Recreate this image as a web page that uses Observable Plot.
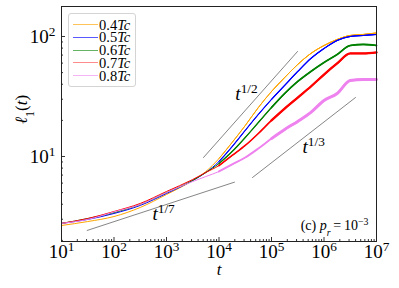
<!DOCTYPE html>
<html><head><meta charset="utf-8">
<script src="https://cdn.jsdelivr.net/npm/d3@7"></script>
<script src="https://cdn.jsdelivr.net/npm/@observablehq/plot@0.6"></script>
<style>
body{margin:0;background:#fff;}
#wrap{position:relative;width:399px;height:288px;}
#legend{position:absolute;left:68px;top:13px;width:68px;height:74px;border:1px solid #d4d4d4;border-radius:3px;background:rgba(255,255,255,0.85);font-family:"Liberation Serif","DejaVu Serif",serif;font-size:14.5px;line-height:12px;box-sizing:border-box;color:#000;}
.row{position:absolute;left:4px;height:12px;display:flex;align-items:center;white-space:nowrap;}
.sw{width:25px;height:0;border-top:1.5px solid;margin-right:1px;}
</style></head>
<body><div id="wrap"></div>
<script>
// ---- data ----
const temps = ["0.4", "0.5", "0.6", "0.7", "0.8"];
const colors = ["#FFA500", "#0000FF", "#008000", "#FF0000", "#EE82EE"];
const legendColors = ["rgba(255,165,0,0.65)", "rgba(0,0,255,0.65)", "rgba(0,128,0,0.6)", "rgba(255,0,0,0.45)", "rgba(238,130,238,0.6)"];
const times = [10, 31.6, 100, 316, 1000, 3160, 5620, 1e4, 1.78e4, 3.16e4, 5.62e4, 1e5, 1.78e5, 3.16e5, 5.62e5, 1e6, 1.78e6, 3.16e6, 5.62e6, 1e7];
const ell04 = [2.66, 2.87, 3.16, 3.76, 4.82, 6.31, 7.50, 9.62, 13.1, 18.1, 25.6, 34.8, 45.5, 58.5, 72.2, 84.1, 94.4, 102, 104, 107];
const ell05 = [2.77, 2.99, 3.35, 3.91, 4.92, 6.31, 7.36, 9.08, 12.1, 16.5, 22.4, 29.9, 39.1, 51.1, 65.6, 79.4, 92.6, 100, 102, 104];
const ell06 = [2.77, 3.04, 3.41, 3.98, 5.01, 6.31, 7.36, 8.74, 11.0, 14.4, 19.2, 25.6, 33.5, 42.2, 51.1, 60.7, 70.8, 84.1, 85.8, 84.1];
const ell07 = [2.77, 3.04, 3.48, 4.06, 5.11, 6.43, 7.36, 8.41, 10.2, 12.35, 15.55, 20.0, 25.1, 31.0, 38.3, 48.2, 59.6, 72.2, 72.2, 73.6];
const ell08 = [2.77, 2.99, 3.45, 3.98, 5.01, 6.19, 6.81, 7.50, 8.58, 9.81, 11.66, 14.1, 16.8, 19.6, 23.3, 29.3, 33.5, 43.0, 43.8, 43.8];
const series = [ell04, ell05, ell06, ell07, ell08];
const lateWidths = [1, 1.1, 1.7, 2.3, 2.9];

const guideHalfT = [5070, 3.13e5], guideHalfV = [9.81, 75];
const guideThirdT = [4.345e4, 3.98e6], guideThirdV = [6.68, 31.0];
const guideSeventhT = [30.9, 1.972e4], guideSeventhV = [2.42, 6.11];

const majorX = [10, 100, 1e3, 1e4, 1e5, 1e6, 1e7];
const xTickLabels = ["10^{1}", "10^{2}", "10^{3}", "10^{4}", "10^{5}", "10^{6}", "10^{7}"];
const majorY = [10, 100];
const yTickLabels = ["10^{1}", "10^{2}"];
const minorMult = [2, 3, 4, 5, 6, 7, 8, 9];

// ---- build ----
const rows = series.flatMap((vals, s) => vals.map((v, j) => ({t: times[j], v, s})));
const guide = (T, V) => T.map((t, i) => ({t, v: V[i]}));
const minorX = majorX.slice(0, -1).flatMap(d => minorMult.map(k => k * d));
const minorY = [1, 10, 100].flatMap(d => minorMult.map(k => k * d)).filter(v => v >= 1.96 && v <= 178);

const font = "'Liberation Serif','DejaVu Serif',serif";
const lineMarks = series.flatMap((_, s) => [
  Plot.line(rows.filter(r => r.s === s), {x: "t", y: "v", stroke: colors[s], strokeWidth: 1, curve: "monotone-x"}),
  Plot.line(rows.filter(r => r.s === s && r.t >= 1e4), {x: "t", y: "v", stroke: colors[s], strokeWidth: (1 + lateWidths[s]) / 2, curve: "monotone-x"}),
  Plot.line(rows.filter(r => r.s === s && r.t >= 1e5), {x: "t", y: "v", stroke: colors[s], strokeWidth: lateWidths[s], curve: "monotone-x"})
]);

const chart = Plot.plot({
  width: 399, height: 288,
  marginLeft: 61, marginRight: 23, marginTop: 6, marginBottom: 47,
  style: {fontFamily: font, background: "white", color: "black"},
  x: {type: "log", domain: [10, 1e7], label: null},
  y: {type: "log", domain: [1.957, 177.8], label: null},
  marks: [
    ...lineMarks,
    Plot.line(guide(guideHalfT, guideHalfV), {x: "t", y: "v", stroke: "#333", strokeWidth: 0.6}),
    Plot.line(guide(guideThirdT, guideThirdV), {x: "t", y: "v", stroke: "#333", strokeWidth: 0.6}),
    Plot.line(guide(guideSeventhT, guideSeventhV), {x: "t", y: "v", stroke: "#333", strokeWidth: 0.6}),
    Plot.text(["*t*^{1/2}"], {x: 2.05e4, y: 29.3, text: d => d, textAnchor: "start", lineAnchor: "bottom", fontSize: 19}),
    Plot.text(["*t*^{1/3}"], {x: 3.9e5, y: 10.6, text: d => d, textAnchor: "start", lineAnchor: "bottom", fontSize: 19}),
    Plot.text(["*t*^{1/7}"], {x: 540, y: 2.93, text: d => d, textAnchor: "start", lineAnchor: "bottom", fontSize: 19}),
    Plot.text(["(c) *p*_{*r*}\u2009=\u200910^{\u22123}"], {frameAnchor: "bottom-right", dx: -8, dy: -12, textAnchor: "end", lineAnchor: "bottom", fontSize: 14, text: d => d}),
    Plot.axisX(minorX, {anchor: "bottom", tickSize: -2, tickFormat: () => "", label: null, strokeWidth: 0.8}),
    Plot.axisX(majorX, {anchor: "bottom", tickSize: -4, tickFormat: () => "", label: null, strokeWidth: 0.8}),
    Plot.axisX(majorX, {anchor: "bottom", tickSize: 0, tickPadding: 3, tickFormat: d => xTickLabels[majorX.indexOf(d)], fontSize: 19, label: null}),
    Plot.axisY(minorY, {anchor: "left", tickSize: -2, tickFormat: () => "", label: null, strokeWidth: 0.8}),
    Plot.axisY(majorY, {anchor: "left", tickSize: -4, tickFormat: () => "", label: null, strokeWidth: 0.8}),
    Plot.axisY(majorY, {anchor: "left", tickSize: 0, tickPadding: 6, tickFormat: d => yTickLabels[majorY.indexOf(d)], fontSize: 19, label: null}),
    Plot.text(["*t*"], {frameAnchor: "bottom", dy: 33, text: d => d, fontSize: 17}),
    Plot.text(["*\u2113*_{1}(*t*)"], {frameAnchor: "left", dx: -40, rotate: -90, text: d => d, fontSize: 17}),
    Plot.frame({stroke: "#222", strokeWidth: 1})
  ]
});

// rich text: ^{..} superscript, _{..} subscript, *..* italic
function rich(el) {
  const src = el.textContent;
  if (!/[\^_*]/.test(src)) return;
  el.textContent = "";
  const re = /(\^\{[^}]*\}|_\{[^}]*\}|\*[^*]*\*)/g;
  let last = 0, m;
  const add = (txt, shift) => {
    const ts = document.createElementNS("http://www.w3.org/2000/svg", "tspan");
    let t = txt;
    if (t.length > 1 && t.startsWith("*") && t.endsWith("*")) { t = t.slice(1, -1); ts.setAttribute("font-style", "italic"); }
    if (shift) { ts.setAttribute("baseline-shift", shift); ts.setAttribute("font-size", "70%"); }
    ts.textContent = t;
    el.appendChild(ts);
  };
  while ((m = re.exec(src))) {
    if (m.index > last) add(src.slice(last, m.index));
    const tok = m[0];
    if (tok[0] === "^") add(tok.slice(2, -1), "super");
    else if (tok[0] === "_") add(tok.slice(2, -1), "sub");
    else add(tok);
    last = re.lastIndex;
  }
  if (last < src.length) add(src.slice(last));
}
chart.querySelectorAll("text").forEach(rich);

const wrap = document.getElementById("wrap");
wrap.appendChild(chart);
const legend = document.createElement("div");
legend.id = "legend";
temps.forEach((tp, i) => {
  const row = document.createElement("div");
  row.className = "row";
  row.style.top = (4.5 + i * 12.8) + "px";
  const sw = document.createElement("span");
  sw.className = "sw";
  sw.style.borderTopColor = legendColors[i];
  row.appendChild(sw);
  const lab = document.createElement("span");
  lab.innerHTML = tp + "<i>Tc</i>";
  row.appendChild(lab);
  legend.appendChild(row);
});
wrap.appendChild(legend);
</script>
</body></html>
